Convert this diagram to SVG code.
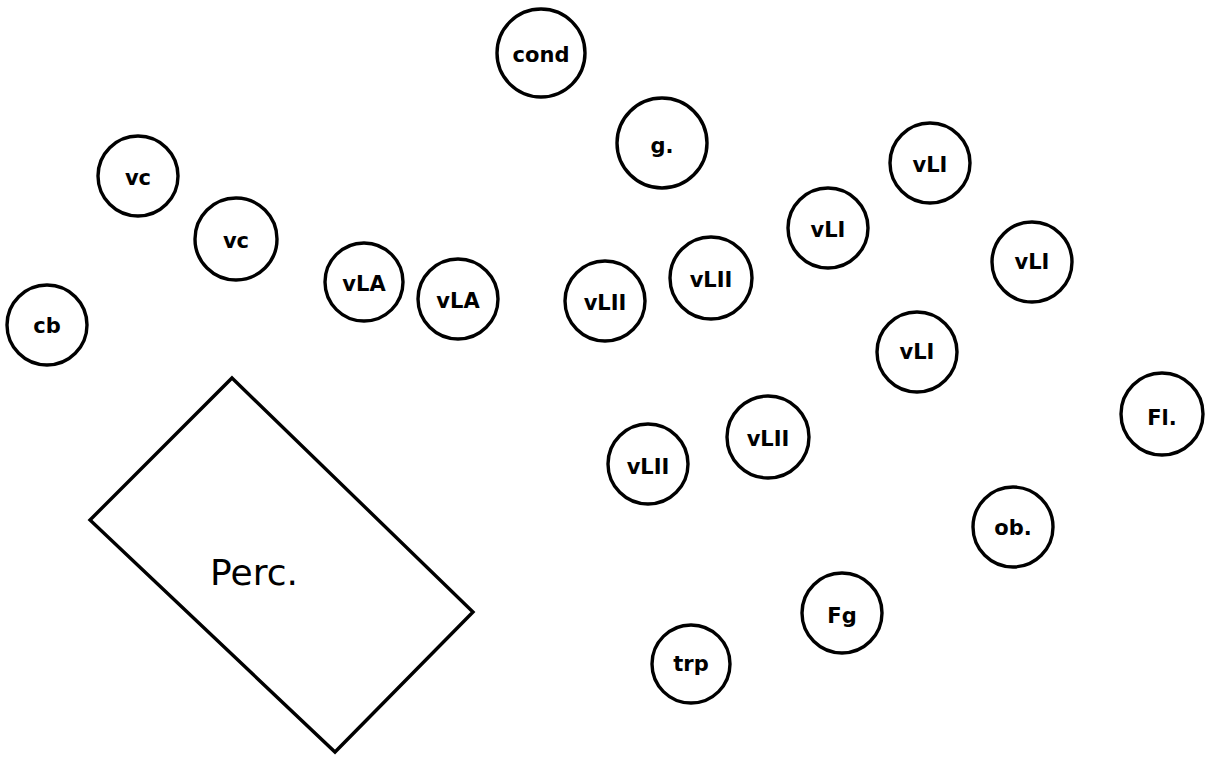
<svg xmlns="http://www.w3.org/2000/svg" width="1206" height="760" viewBox="0 0 1206 760">
<style>
.n{fill:#fff;stroke:#000;stroke-width:3.4}
.t{font-family:"DejaVu Sans","Liberation Sans",sans-serif;font-weight:bold;font-size:21px;fill:#000;text-anchor:middle;dominant-baseline:central}
.p{font-family:"DejaVu Sans","Liberation Sans",sans-serif;font-size:36px;fill:#000;text-anchor:middle;dominant-baseline:central}
</style>
<rect width="1206" height="760" fill="#fff"/>
<g id="connectors"></g>
<g id="perc"><polygon points="232,378 473,612 335,752 90,520" fill="none" stroke="#000" stroke-width="3.4"/><text class="p" x="254" y="572">Perc.</text></g>
<g id="cond"><circle class="n" cx="541" cy="53" r="44"/><text class="t" x="541" y="55">cond</text></g>
<g id="g"><circle class="n" cx="662" cy="143" r="45"/><text class="t" x="662" y="146" font-size="28">g.</text></g>
<g id="vc1"><circle class="n" cx="138" cy="176" r="40"/><text class="t" x="138" y="178">vc</text></g>
<g id="vc2"><circle class="n" cx="236" cy="239" r="41"/><text class="t" x="236" y="241">vc</text></g>
<g id="cb"><circle class="n" cx="47" cy="325" r="40"/><text class="t" x="47" y="326">cb</text></g>
<g id="vla1"><circle class="n" cx="364" cy="282" r="39"/><text class="t" x="364" y="284">vLA</text></g>
<g id="vla2"><circle class="n" cx="458" cy="299" r="40"/><text class="t" x="458" y="301">vLA</text></g>
<g id="vl2a"><circle class="n" cx="605" cy="301" r="40"/><text class="t" x="605" y="303">vLII</text></g>
<g id="vl2b"><circle class="n" cx="711" cy="278" r="41"/><text class="t" x="711" y="280">vLII</text></g>
<g id="vl1a"><circle class="n" cx="828" cy="228" r="40"/><text class="t" x="828" y="230">vLI</text></g>
<g id="vl1b"><circle class="n" cx="930" cy="163" r="40"/><text class="t" x="930" y="165">vLI</text></g>
<g id="vl1c"><circle class="n" cx="1032" cy="262" r="40"/><text class="t" x="1032" y="262">vLI</text></g>
<g id="vl1d"><circle class="n" cx="917" cy="352" r="40"/><text class="t" x="917" y="352">vLI</text></g>
<g id="fl"><circle class="n" cx="1162" cy="414" r="41"/><text class="t" x="1162" y="418" font-size="25">Fl.</text></g>
<g id="vl2c"><circle class="n" cx="648" cy="464" r="40"/><text class="t" x="648" y="467">vLII</text></g>
<g id="vl2d"><circle class="n" cx="768" cy="437" r="41"/><text class="t" x="768" y="439">vLII</text></g>
<g id="ob"><circle class="n" cx="1013" cy="527" r="40"/><text class="t" x="1013" y="528" font-size="23">ob.</text></g>
<g id="fg"><circle class="n" cx="842" cy="613" r="40"/><text class="t" x="842" y="616" font-size="23">Fg</text></g>
<g id="trp"><circle class="n" cx="691" cy="664" r="39"/><text class="t" x="691" y="664" font-size="23">trp</text></g>
</svg>
